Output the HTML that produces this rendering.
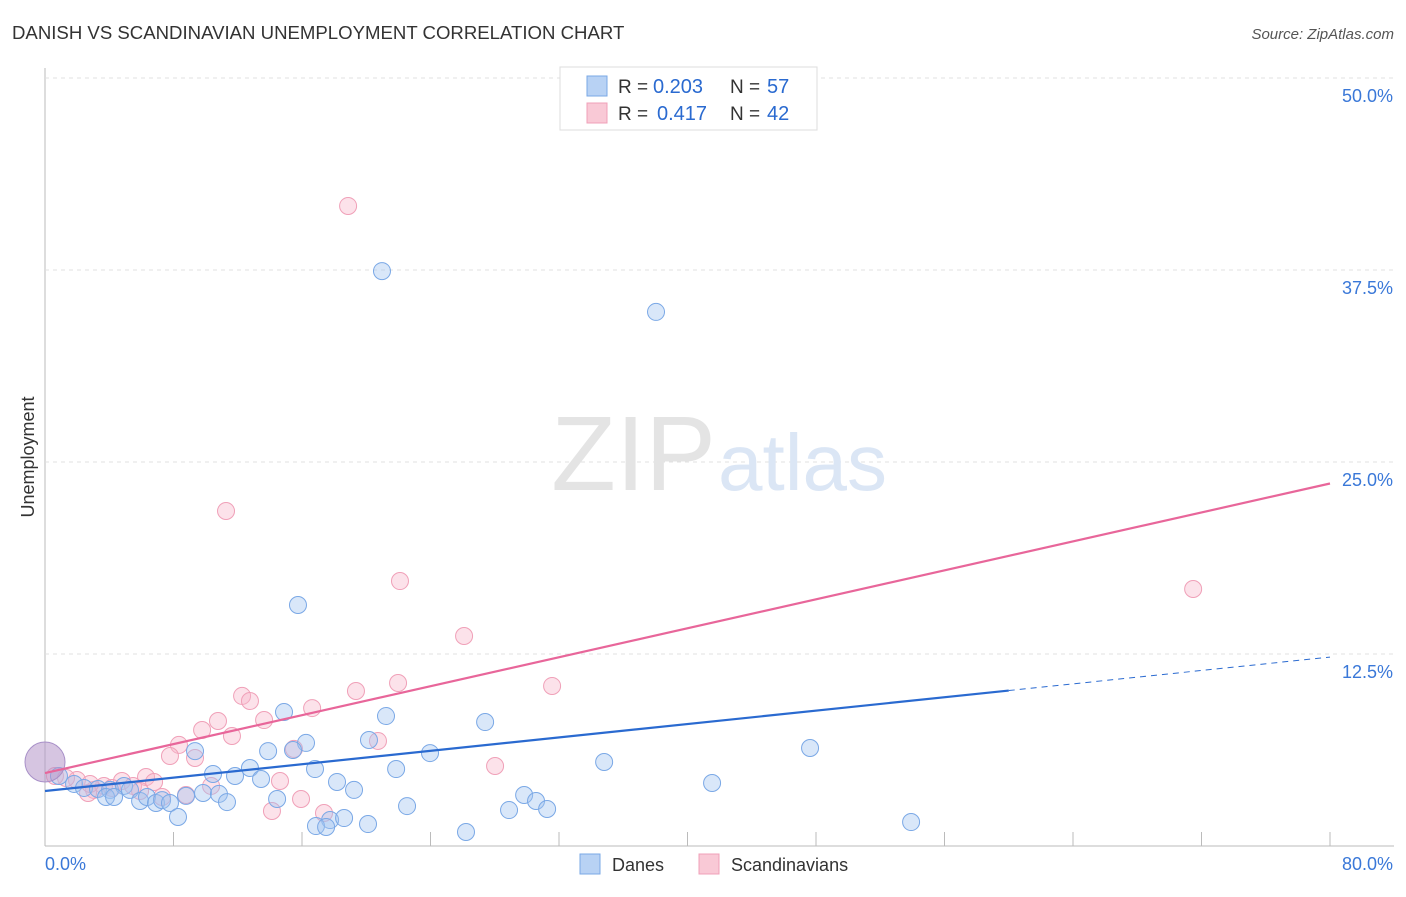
<!DOCTYPE html>
<html><head><meta charset="utf-8"><style>
body{margin:0;background:#fff;font-family:"Liberation Sans",sans-serif;}
svg text{font-family:"Liberation Sans",sans-serif;}
</style></head><body>
<svg id="chart" width="1406" height="892">
<text x="12" y="39" font-size="18.6" fill="#333">DANISH VS SCANDINAVIAN UNEMPLOYMENT CORRELATION CHART</text>
<text x="1394" y="39" font-size="15" fill="#555" font-style="italic" text-anchor="end">Source: ZipAtlas.com</text>
<text x="34" y="457" font-size="18" fill="#333" transform="rotate(-90 34 457)" text-anchor="middle">Unemployment</text>
<g id="grid"></g>
<text x="716" y="490" font-size="106" fill="#e4e4e4" text-anchor="end" font-family="Liberation Serif">ZIP</text>
<text x="718" y="490" font-size="80" fill="#dbe6f5">atlas</text>
<g id="marks"></g>
<g id="lines"></g>
<g>
<rect x="560" y="67" width="257" height="63" fill="#fff" stroke="#ddd"/>
<rect x="587" y="76" width="20" height="20" fill="#b8d2f4" stroke="#7aa8e6"/>
<rect x="587" y="103" width="20" height="20" fill="#f9c9d6" stroke="#f0a0b8"/>
<text x="618" y="93" font-size="19" fill="#333">R =</text>
<text x="653" y="93" font-size="20" fill="#2a6ad0">0.203</text>
<text x="730" y="93" font-size="19" fill="#333">N =</text>
<text x="767" y="93" font-size="20" fill="#2a6ad0">57</text>
<text x="618" y="120" font-size="19" fill="#333">R =</text>
<text x="657" y="120" font-size="20" fill="#2a6ad0">0.417</text>
<text x="730" y="120" font-size="19" fill="#333">N =</text>
<text x="767" y="120" font-size="20" fill="#2a6ad0">42</text>
</g>
<g>
<rect x="580" y="854" width="20" height="20" fill="#b8d2f4" stroke="#7aa8e6"/>
<text x="612" y="871" font-size="18" fill="#333">Danes</text>
<rect x="699" y="854" width="20" height="20" fill="#f9c9d6" stroke="#f0a0b8"/>
<text x="731" y="871" font-size="18" fill="#333">Scandinavians</text>
</g>
</svg>
<script>
const yTicks=[12.5,25,37.5,50];
const yTickLabels=["12.5%","25.0%","37.5%","50.0%"];
const xTickLabels=["0.0%","80.0%"];
const danesPx=[[382,271],[656,312],[298,605],[284,712],[386,716],[485,722],[810,748],[306,743],[369,740],[430,753],[195,751],[268,751],[293,750],[604,762],[250,768],[213,774],[235,776],[261,779],[315,769],[396,769],[337,782],[354,790],[712,783],[59,776],[74,784],[84,788],[98,789],[110,790],[124,786],[130,790],[106,797],[114,797],[140,801],[147,797],[156,803],[162,800],[170,803],[186,796],[203,793],[219,794],[227,802],[277,799],[407,806],[524,795],[536,801],[547,809],[509,810],[178,817],[330,820],[316,826],[344,818],[368,824],[326,827],[466,832],[911,822]];
const scandPx=[[348,206],[226,511],[400,581],[1193,589],[464,636],[552,686],[398,683],[356,691],[242,696],[250,701],[312,708],[264,720],[218,721],[202,730],[232,736],[179,745],[378,741],[170,756],[195,758],[294,749],[495,766],[146,777],[122,781],[154,782],[280,781],[104,786],[94,790],[112,788],[133,786],[186,795],[162,797],[77,780],[66,778],[88,793],[272,811],[301,799],[324,813],[211,786],[55,776],[140,791],[90,784]];
const danesX=danesPx.map(p=>+((p[0]-45)/16.06).toFixed(2));
const danesY=danesPx.map(p=>+((846-p[1])/15.36).toFixed(2));
const scandX=scandPx.map(p=>+((p[0]-45)/16.06).toFixed(2));
const scandY=scandPx.map(p=>+((846-p[1])/15.36).toFixed(2));
const blueTrend=[3.58,12.3];
const pinkTrend=[4.75,23.6];
const NS="http://www.w3.org/2000/svg";
const X=v=>45+v*16.0625, Y=v=>846-v*15.36;
function mk(t,a,p){const e=document.createElementNS(NS,t);for(const k in a)e.setAttribute(k,a[k]);p.appendChild(e);return e;}
const g=document.getElementById('grid');
let ax=mk('line',{x1:45,y1:68,x2:45,y2:846,stroke:'#bbb'},g);


let bx=mk('line',{x1:45,y1:846,x2:1394,y2:846,stroke:'#bbb'},g);


for(let i=1;i<=10;i++){const t=mk('line',{x1:45+i*128.5,y1:832,x2:45+i*128.5,y2:846,stroke:'#bbb'},g);

}
yTicks.forEach((v,i)=>{const l=mk('line',{x1:45,y1:Y(v),x2:1394,y2:Y(v),stroke:'#e0e0e0','stroke-dasharray':'4,4'},g);


const t=mk('text',{x:1393,y:Y(v)+24,'font-size':18,fill:'#3a78d8','text-anchor':'end'},g);t.textContent=yTickLabels[i];

});
[[45,'start',0],[1393,'end',1]].forEach(a=>{const t=mk('text',{x:a[0],y:870,'font-size':18,fill:'#3a78d8','text-anchor':a[1]},g);t.textContent=xTickLabels[a[2]];

});
const m=document.getElementById('marks');
scandX.forEach((x,i)=>{const c=mk('circle',{cx:X(x),cy:Y(scandY[i]),r:8.5,fill:'rgba(248,182,202,0.4)',stroke:'#f0a0b8','stroke-width':1},m);

});
danesX.forEach((x,i)=>{const c=mk('circle',{cx:X(x),cy:Y(danesY[i]),r:8.5,fill:'rgba(160,196,240,0.4)',stroke:'#7aa8e6','stroke-width':1},m);

});
const big=mk('circle',{cx:45,cy:762,r:20,fill:'rgba(180,150,200,0.55)',stroke:'#a890c8'},m);


const L=document.getElementById('lines');
const bt=v=>blueTrend[0]+(blueTrend[1]-blueTrend[0])*v/80;
let b1=mk('line',{x1:X(0),y1:Y(bt(0)),x2:X(60),y2:Y(bt(60)),stroke:'#2a6ad0','stroke-width':2.2},L);


let b2=mk('line',{x1:X(60),y1:Y(bt(60)),x2:X(80),y2:Y(bt(80)),stroke:'#2a6ad0','stroke-width':1,'stroke-dasharray':'6,5'},L);


let p1=mk('line',{x1:X(0),y1:Y(pinkTrend[0]),x2:X(80),y2:Y(pinkTrend[1]),stroke:'#e8669a','stroke-width':2.2},L);


</script>
</body></html>
